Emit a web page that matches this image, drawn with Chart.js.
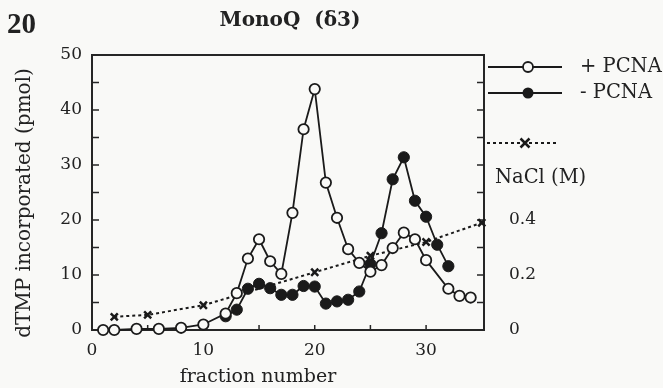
<!DOCTYPE html>
<html>
<head>
<meta charset="utf-8">
<script src="https://cdn.jsdelivr.net/npm/chart.js@4/dist/chart.umd.min.js"></script>
<style>
  html, body { margin: 0; padding: 0; background: #f9f9f7; }
  #wrap { width: 663px; height: 388px; }
</style>
</head>
<body>
<div id="wrap"><canvas id="chart" width="663" height="388"></canvas></div>
<script>
// fraction numbers and dTMP incorporated (pmol), with PCNA
const fractionsPlus = [1, 2, 4, 6, 8, 10, 12, 13, 14, 15, 16, 17, 18, 19, 20, 21, 22, 23, 24, 25, 26, 27, 28, 29, 30, 32, 33, 34];
const dtmpPlus = [0, 0, 0.2, 0.2, 0.4, 1.0, 3.0, 6.7, 13.0, 16.5, 12.5, 10.2, 21.3, 36.5, 43.8, 26.8, 20.4, 14.7, 12.2, 10.6, 11.8, 14.9, 17.7, 16.5, 12.7, 7.5, 6.2, 5.9];

// without PCNA
const fractionsMinus = [12, 13, 14, 15, 16, 17, 18, 19, 20, 21, 22, 23, 24, 25, 26, 27, 28, 29, 30, 31, 32];
const dtmpMinus = [2.5, 3.7, 7.5, 8.4, 7.6, 6.4, 6.4, 8.0, 7.9, 4.8, 5.2, 5.5, 7.0, 12.0, 17.6, 27.4, 31.4, 23.5, 20.6, 15.5, 11.6];

// salt gradient (M)
const fractionsNaCl = [2, 5, 10, 20, 25, 30, 35];
const naclM = [0.048, 0.055, 0.09, 0.21, 0.27, 0.32, 0.39];

const xTickLabels = [0, 10, 20, 30];
const yTickLabels = [0, 10, 20, 30, 40, 50];
const y2TickLabels = [0, 0.2, 0.4];

const ink = '#1a1a1a';
const paper = '#f9f9f7';
const serif = '"DejaVu Serif", "Liberation Serif", serif';

function toPoints(xs, ys) {
  return xs.map((x, i) => ({ x: x, y: ys[i] }));
}

// frame, inward ticks and the free-standing texts / legend
const decorations = {
  id: 'decorations',
  beforeDatasetsDraw(chart) {
    const ctx = chart.ctx;
    const a = chart.chartArea;
    const tick = 7;
    ctx.save();
    ctx.strokeStyle = '#262626';
    ctx.lineWidth = 2;
    ctx.strokeRect(a.left, a.top, a.right - a.left, a.bottom - a.top);
    ctx.lineWidth = 1.5;
    ctx.beginPath();
    chart.scales.x.ticks.forEach(t => {
      const px = chart.scales.x.getPixelForValue(t.value);
      ctx.moveTo(px, a.bottom);
      ctx.lineTo(px, a.bottom - tick + 2);
    });
    chart.scales.y.ticks.forEach(t => {
      const py = chart.scales.y.getPixelForValue(t.value);
      ctx.moveTo(a.left, py);
      ctx.lineTo(a.left + tick, py);
    });
    chart.scales.y2.ticks.forEach(t => {
      const py = chart.scales.y2.getPixelForValue(t.value);
      ctx.moveTo(a.right, py);
      ctx.lineTo(a.right - tick, py);
    });
    ctx.stroke();
    ctx.restore();
  },
  afterDraw(chart) {
    const ctx = chart.ctx;
    ctx.save();
    ctx.fillStyle = '#222';
    ctx.textBaseline = 'middle';

    ctx.font = 'bold 29px "Liberation Serif", serif';
    ctx.textAlign = 'left';
    ctx.fillText('20', 7, 26);

    ctx.font = 'bold 20px ' + serif;
    ctx.textAlign = 'center';
    ctx.fillText('MonoQ  (δ3)', 290, 21);

    ctx.font = '19px ' + serif;
    ctx.fillText('fraction number', 258, 377);

    ctx.save();
    ctx.translate(25, 203);
    ctx.rotate(-Math.PI / 2);
    ctx.font = '20px ' + serif;
    ctx.fillText('dTMP incorporated (pmol)', 0, 0);
    ctx.restore();

    // legend
    ctx.textAlign = 'left';
    ctx.font = '19.5px ' + serif;
    ctx.fillText('+ PCNA', 580, 67);
    ctx.fillText('- PCNA', 580, 93);
    ctx.fillText('NaCl (M)', 495, 178);

    ctx.strokeStyle = ink;
    ctx.lineWidth = 1.8;
    ctx.beginPath();
    ctx.moveTo(488, 67); ctx.lineTo(562, 67);
    ctx.moveTo(488, 93); ctx.lineTo(562, 93);
    ctx.stroke();

    ctx.beginPath();
    ctx.arc(528, 67, 5, 0, Math.PI * 2);
    ctx.fillStyle = paper;
    ctx.fill();
    ctx.stroke();

    ctx.beginPath();
    ctx.arc(528, 93, 5.5, 0, Math.PI * 2);
    ctx.fillStyle = ink;
    ctx.fill();

    ctx.lineWidth = 2;
    ctx.setLineDash([3, 3]);
    ctx.beginPath();
    ctx.moveTo(487, 143); ctx.lineTo(557, 143);
    ctx.stroke();
    ctx.setLineDash([]);
    ctx.lineWidth = 2.5;
    ctx.beginPath();
    ctx.moveTo(520.5, 138.5); ctx.lineTo(529.5, 147.5);
    ctx.moveTo(529.5, 138.5); ctx.lineTo(520.5, 147.5);
    ctx.stroke();
    ctx.restore();
  }
};

const tickFont = { family: serif, size: 17 };

new Chart(document.getElementById('chart'), {
  type: 'line',
  data: {
    datasets: [
      {
        label: '+ PCNA',
        data: toPoints(fractionsPlus, dtmpPlus),
        borderColor: ink,
        borderWidth: 1.8,
        pointRadius: 5.2,
        pointBorderWidth: 1.8,
        pointBackgroundColor: paper,
        pointBorderColor: ink,
        tension: 0,
        clip: false,
        yAxisID: 'y'
      },
      {
        label: '- PCNA',
        data: toPoints(fractionsMinus, dtmpMinus),
        borderColor: ink,
        borderWidth: 1.8,
        pointRadius: 5.6,
        pointBorderWidth: 1,
        pointBackgroundColor: ink,
        pointBorderColor: ink,
        tension: 0,
        clip: false,
        yAxisID: 'y'
      },
      {
        label: 'NaCl (M)',
        data: toPoints(fractionsNaCl, naclM),
        borderColor: ink,
        borderWidth: 2,
        borderDash: [3, 3],
        pointStyle: 'crossRot',
        pointRadius: 5,
        pointBorderWidth: 2.5,
        pointBorderColor: ink,
        tension: 0,
        clip: false,
        yAxisID: 'y2'
      }
    ]
  },
  options: {
    responsive: false,
    animation: false,
    events: [],
    layout: { padding: { top: 55, left: 0, right: 0, bottom: 0 } },
    plugins: {
      legend: { display: false },
      tooltip: { enabled: false }
    },
    scales: {
      x: {
        type: 'linear',
        min: 0,
        max: 35.2,
        grid: { display: false, drawTicks: false },
        border: { display: false },
        ticks: {
          stepSize: 5,
          autoSkip: false,
          maxRotation: 0,
          padding: 10,
          color: '#222',
          font: tickFont,
          callback: v => xTickLabels.includes(v) ? String(v) : ''
        },
        afterFit: s => { s.height = 58; }
      },
      y: {
        position: 'left',
        min: 0,
        max: 50,
        grid: { display: false, drawTicks: false },
        border: { display: false },
        ticks: {
          stepSize: 5,
          autoSkip: false,
          padding: 10,
          color: '#222',
          font: tickFont,
          callback: v => yTickLabels.includes(v) ? String(v) : ''
        },
        afterFit: s => { s.width = 92; }
      },
      y2: {
        position: 'right',
        min: 0,
        max: 1.0,
        grid: { display: false, drawTicks: false },
        border: { display: false },
        ticks: {
          stepSize: 0.1,
          autoSkip: false,
          padding: 25,
          color: '#222',
          font: tickFont,
          callback: v => {
            const r = Math.round(v * 10) / 10;
            return y2TickLabels.includes(r) ? String(r) : '';
          }
        },
        afterFit: s => { s.width = 179; }
      }
    }
  },
  plugins: [decorations]
});
</script>
</body>
</html>
